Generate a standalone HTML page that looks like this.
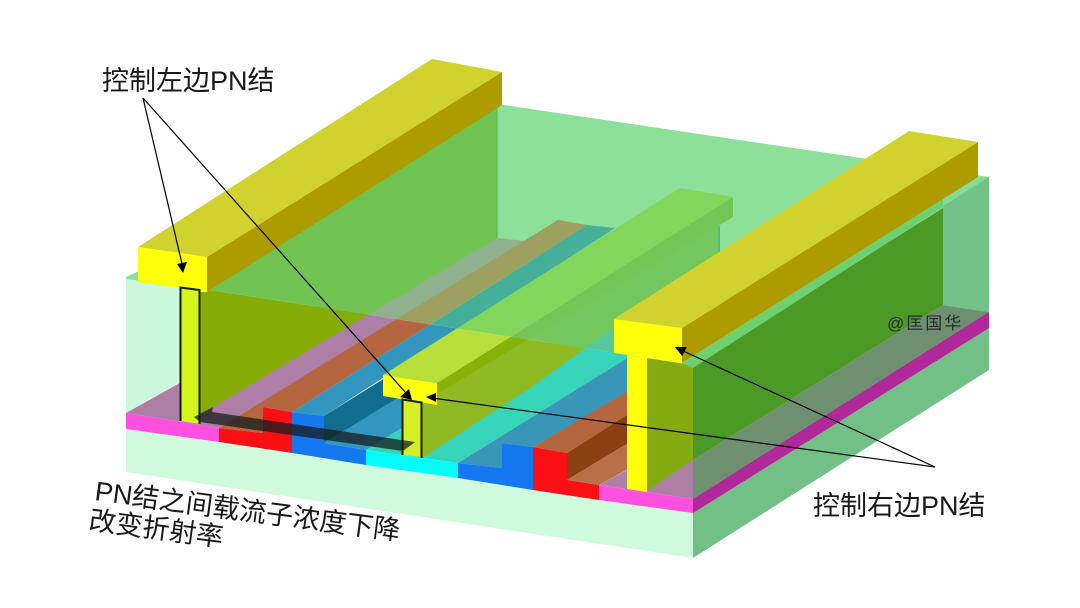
<!DOCTYPE html>
<html><head><meta charset="utf-8">
<style>
html,body{margin:0;padding:0;background:#fff;width:1080px;height:608px;overflow:hidden}
svg{display:block}
text{font-family:"Liberation Sans","Noto Sans CJK SC",sans-serif;fill:#1a1a1a}
</style></head>
<body>
<svg width="1080" height="608" viewBox="0 0 1080 608" xmlns="http://www.w3.org/2000/svg">
<defs>
<clipPath id="b"><polygon points="0,257.5 1080,425 1080,608 0,608"/></clipPath>
<clipPath id="a"><polygon points="0,0 1080,0 1080,425 0,257.5"/></clipPath>
</defs>
<rect width="1080" height="608" fill="#fff"/>
<!-- slab -->
<polygon points="126,429 693,513 693,558 126,472" fill="#cffadc"/>
<polygon points="693,513 989,328 989,370 693,558" fill="#72c085"/>
<polygon points="693,499 989,312 989,328 693,513" fill="#b0289a"/>
<!-- back wall -->
<polygon points="497,104 989,177 989,312 943,305 720,300 540,262 497,238" fill="#8ce09a"/>
<!-- light front wall left -->
<polygon points="126,277 150,266 190,286 126,280" fill="#8ce09a"/>
<polygon points="126,279 190,287 190,376 126,413" fill="#ccf9dc"/>
<!-- floor below the front-wall line -->
<g clip-path="url(#b)">
<polygon points="126,413 219,428 525,241 497,238 497,205" fill="#ad7fa6"/>
<polygon points="219,428 558,220 587,225 292,412 263,407 263,433" fill="#b5663f"/>
<polygon points="292,412 587,225 615,228 324,416" fill="#3296be"/>
<polygon points="324,416 324,443 470,357 470,325" fill="#126e90"/>
<polygon points="324,443 366,450 440,405 440,372" fill="#3296be"/>
<polygon points="366,450 458,463 640,350 720,300 720,252 402,428" fill="#36d4b8"/>
<polygon points="458,463 502,468 502,443 533,447 640,385 640,350" fill="#3a96b8"/>
<polygon points="533,447 567,453 630,413 630,390" fill="#b5663f"/>
<polygon points="567,453 567,480 630,442 630,413" fill="#8a4010"/>
<polygon points="567,480 599,485 630,468 630,442" fill="#b87048"/>
<polygon points="599,485 627,470 647,470 693,460 693,499" fill="#ad7fa6"/>
</g>
<!-- floor seen through the top face -->
<g clip-path="url(#a)">
<polygon points="126,413 219,428 525,241 497,238 497,205" fill="#8fb08e"/>
<polygon points="219,428 558,220 587,225 292,412 263,407 263,433" fill="#9ea060"/>
<polygon points="292,412 587,225 615,228 324,416" fill="#45b09a"/>
<polygon points="366,450 458,463 640,350 720,300 720,252 402,428" fill="#55c8a0"/>
</g>
<!-- left wall -->
<polygon points="200,415 497,238 497,105 207,292 200,292" fill="#85ad05" clip-path="url(#b)"/>
<polygon points="200,415 497,238 497,105 207,292 200,292" fill="#6fc452" clip-path="url(#a)"/>
<line x1="497" y1="105" x2="497" y2="238" stroke="#5cab5a" stroke-width="1"/>
<!-- center wall and bar -->
<g clip-path="url(#b)">
<polygon points="422,404 437,385 720,215 720,252 530,388 422,458" fill="#90ba22"/>
<polygon points="437,383 733,197 733,217 437,394" fill="#88b208"/>
<polygon points="383,375 680,188 733,197 437,383" fill="#b8e03a"/>
</g>
<g clip-path="url(#a)">
<polygon points="422,404 437,385 720,215 720,252 530,388 422,458" fill="#72c85e"/>
<polygon points="437,383 733,197 733,217 437,394" fill="#74c456"/>
<polygon points="383,375 680,188 733,197 437,383" fill="#82d65c"/>
</g>
<line x1="719" y1="227" x2="719" y2="252" stroke="#4aa878" stroke-width="1"/>
<polygon points="383,375 437,383 437,405 383,396" fill="#ffff0a"/>
<!-- center post -->
<polygon points="402,400 422,403 422,457 402,455" fill="#d6ee28"/>
<path d="M402.5,455 V399.5 L421.5,402.5 V458" fill="none" stroke="#10200a" stroke-width="2"/>
<!-- right wall -->
<polygon points="647,358 693,365 693,460 647,491" fill="#84ac10"/>
<polygon points="693,460 943,305 989,312 693,499" fill="#6f9070"/>
<polygon points="693,365 943,208 943,305 693,460" fill="#4b9a26"/>
<polygon points="943,205 989,177 989,312 943,305" fill="#73c28a"/>
<polygon points="682,363 978,177 989,177 943,207 693,368" fill="#6fd070"/>
<polygon points="943,199 978,177 989,177 943,206" fill="#85dc96"/>
<polygon points="693,499 989,312 989,328 693,513" fill="#b0289a"/>
<!-- right bar -->
<polygon points="627,355 647,358 647,492 627,489" fill="#ffff0a"/>
<polygon points="682,328 978,142 978,177 682,363" fill="#ac9c00"/>
<polygon points="614,319 909,131 978,142 682,328" fill="#d2d22e"/>
<polygon points="614,319 682,328 682,363 614,353" fill="#ffff0a"/>
<!-- left bar -->
<polygon points="207,257 502,72 502,105 207,292" fill="#ac9c00"/>
<polygon points="138,247 432,59 502,72 207,257" fill="#d2d22e"/>
<polygon points="138,247 207,257 207,292 138,282" fill="#ffff0a"/>
<!-- left post -->
<polygon points="180,287 200,290 200,424 180,421" fill="#d4f41e"/>
<path d="M180.5,421 V287.5 L199.5,290 V424" fill="none" stroke="#10200a" stroke-width="2"/>
<!-- front faces -->
<polygon points="126,413 219,428 219,442 126,429" fill="#ff50e0"/>
<polygon points="219,428 263,433 263,407 292,412 292,453 219,442" fill="#fa0f14"/>
<polygon points="292,412 324,416 324,443 366,450 366,465 292,453" fill="#1478f0"/>
<polygon points="366,450 458,463 458,478 366,465" fill="#05fafa"/>
<polygon points="458,463 502,468 502,443 533,447 533,490 458,478" fill="#1478f0"/>
<polygon points="533,447 567,453 567,480 599,485 599,500 533,490" fill="#fa0f14"/>
<polygon points="599,485 693,499 693,513 599,500" fill="#ff50e0"/>
<!-- shadow arrow -->
<polygon points="194,417 213,407 212,412 415,442 403,451 200,422" fill="#141e1e" fill-opacity="0.75"/>
<!-- arrows -->
<g stroke="#000" stroke-width="1.2" fill="none">
<line x1="143" y1="98" x2="183" y2="268"/>
<line x1="143" y1="98" x2="406" y2="393"/>
<line x1="935" y1="467" x2="432" y2="398"/>
<line x1="935" y1="467" x2="681" y2="350"/>
</g>
<g fill="#000">
<polygon points="183,273 177,264 187,262"/>
<polygon points="412,400 400,397 409,389"/>
<polygon points="426,397 436,393 436,402"/>
<polygon points="675,347 687,347 682,356"/>
</g>
<!-- labels -->
<text x="102" y="90" font-size="27">控制左边PN结</text>
<text x="813" y="515" font-size="27">控制右边PN结</text>
<text x="887" y="329" font-size="17" letter-spacing="2" style="fill:#2a2a2a">@匡国华</text>
<g transform="translate(94,500) rotate(7.5)"><text x="0" y="0" font-size="27">PN结之间载流子浓度下降</text></g>
<g transform="translate(88,529) rotate(7.5)"><text x="0" y="0" font-size="27">改变折射率</text></g>
</svg>
</body></html>
